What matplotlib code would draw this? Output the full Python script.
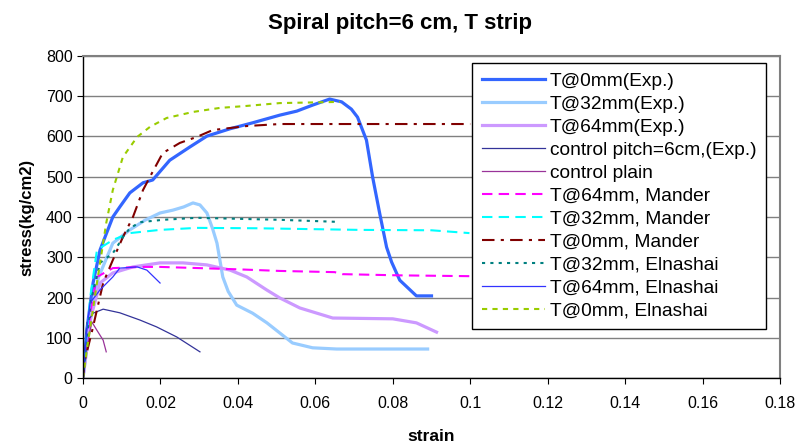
import matplotlib
matplotlib.use("Agg")
import matplotlib.pyplot as plt

plt.rcParams['font.family'] = ['Liberation Sans', 'DejaVu Sans']

# ---------------- data ----------------
t0_exp_x = [0, 0.001, 0.0026, 0.0044, 0.0077, 0.0095, 0.0121, 0.0155, 0.018, 0.0224, 0.0276, 0.032,
            0.0379, 0.0438, 0.0508, 0.0552, 0.0593, 0.0637, 0.0668, 0.0693, 0.0709, 0.0732, 0.0748,
            0.0766, 0.0784, 0.0797, 0.0818, 0.0839, 0.0861, 0.09]
t0_exp_y = [0, 120, 236, 318, 400, 425, 460, 485, 492, 541, 574, 601,
            619, 634, 653, 663, 678, 693, 686, 668, 648, 591, 499,
            410, 325, 288, 243, 224, 204, 204]

t32_exp_x = [0, 0.002, 0.004, 0.0077, 0.0121, 0.016, 0.0199, 0.0232, 0.026, 0.0284, 0.0302, 0.032,
             0.0335, 0.0346, 0.0361, 0.0375, 0.0397, 0.0438, 0.0475, 0.0508, 0.0541, 0.0593, 0.0655, 0.089]
t32_exp_y = [0, 150, 250, 335, 368, 392, 410, 417, 425, 435, 430, 410,
             370, 335, 251, 215, 181, 161, 137, 112, 87, 75, 72, 72]

t64_exp_x = [0, 0.002, 0.0044, 0.0077, 0.0129, 0.0199, 0.0258, 0.032, 0.038, 0.0423, 0.0474, 0.0508,
             0.056, 0.0645, 0.08, 0.0861, 0.0913]
t64_exp_y = [0, 150, 236, 261, 276, 286, 286, 281, 268, 251, 219, 199,
             174, 149, 147, 137, 114]

ctrl_pitch_x = [0, 0.001, 0.0026, 0.0052, 0.0095, 0.0147, 0.019, 0.0242, 0.0302]
ctrl_pitch_y = [0, 137, 161, 171, 162, 144, 127, 102, 65]

ctrl_plain_x = [0, 0.001, 0.0023, 0.0035, 0.0052, 0.006]
ctrl_plain_y = [0, 80, 139, 120, 94, 65]

t64_mander_x = [0, 0.001, 0.002, 0.0036, 0.0077, 0.0147, 0.0199, 0.03, 0.04, 0.0508, 0.065, 0.067, 0.0818, 0.0998]
t64_mander_y = [0, 90, 170, 251, 273, 276, 276, 273, 270, 266, 263, 258, 255, 253]

t32_mander_x = [0, 0.001, 0.002, 0.0036, 0.0077, 0.0121, 0.0199, 0.0294, 0.045, 0.0714, 0.09, 0.0998]
t32_mander_y = [0, 110, 210, 318, 343, 360, 368, 373, 372, 368, 367, 360]

t0_mander_x = [0, 0.0005, 0.0023, 0.0052, 0.0077, 0.0103, 0.0129, 0.0155, 0.0178, 0.0206, 0.025,
               0.0294, 0.0335, 0.0423, 0.0508, 0.1]
t0_mander_y = [0, 45, 115, 236, 293, 350, 400, 467, 509, 559, 584,
               599, 616, 626, 631, 631]

t32_eln_x = [0, 0.001, 0.002, 0.0044, 0.0077, 0.0088, 0.0103, 0.0121, 0.0147, 0.0206, 0.0294, 0.0508, 0.0655]
t32_eln_y = [0, 100, 190, 286, 310, 326, 350, 372, 387, 393, 398, 393, 388]

t64_eln_x = [0, 0.001, 0.0018, 0.0044, 0.0077, 0.0095, 0.014, 0.0165, 0.0199]
t64_eln_y = [0, 120, 186, 219, 251, 273, 276, 268, 236]

t0_eln_x = [0, 0.001, 0.0036, 0.006, 0.0077, 0.0103, 0.014, 0.0173, 0.0216, 0.0284, 0.0353, 0.0423, 0.0508, 0.0663]
t0_eln_y = [0, 70, 236, 385, 467, 549, 599, 624, 646, 661, 671, 676, 683, 686]

x_ticks = [0, 0.02, 0.04, 0.06, 0.08, 0.1, 0.12, 0.14, 0.16, 0.18]
x_tick_labels = ['0', '0.02', '0.04', '0.06', '0.08', '0.1', '0.12', '0.14', '0.16', '0.18']
y_ticks = [0, 100, 200, 300, 400, 500, 600, 700, 800]

# ---------------- figure ----------------
fig = plt.figure(figsize=(8, 4.46), dpi=100)
ax = fig.add_axes([83/800, 1 - 378/446, (780 - 83)/800, (378 - 56)/446])

ax.plot(t0_exp_x, t0_exp_y, color='#3366FF', lw=2.3, label='T@0mm(Exp.)')
ax.plot(t32_exp_x, t32_exp_y, color='#99CCFF', lw=2.3, label='T@32mm(Exp.)')
ax.plot(t64_exp_x, t64_exp_y, color='#CC99FF', lw=2.3, label='T@64mm(Exp.)')
ax.plot(ctrl_pitch_x, ctrl_pitch_y, color='#333399', lw=0.9, label='control pitch=6cm,(Exp.)')
ax.plot(ctrl_plain_x, ctrl_plain_y, color='#993399', lw=0.9, label='control plain')
ax.plot(t64_mander_x, t64_mander_y, color='#FF00FF', lw=1.5, dashes=(5, 3), label='T@64mm, Mander')
ax.plot(t32_mander_x, t32_mander_y, color='#00FFFF', lw=1.5, dashes=(5, 3), label='T@32mm, Mander')
ax.plot(t0_mander_x, t0_mander_y, color='#800000', lw=1.5, dashes=(6, 3, 1.5, 3), label='T@0mm, Mander')
ax.plot(t32_eln_x, t32_eln_y, color='#008080', lw=1.5, dashes=(1.5, 2.5), label='T@32mm, Elnashai')
ax.plot(t64_eln_x, t64_eln_y, color='#3333FF', lw=0.9, label='T@64mm, Elnashai')
ax.plot(t0_eln_x, t0_eln_y, color='#99CC00', lw=1.5, dashes=(2.5, 2.5), label='T@0mm, Elnashai')

ax.set_xlim(0, 0.18)
ax.set_ylim(0, 800)
ax.set_xticks(x_ticks)
ax.set_xticklabels(x_tick_labels)
ax.set_yticks(y_ticks)
ax.tick_params(axis='both', labelsize=11.5, direction='out', length=4, color='black')
ax.tick_params(axis='x', pad=9)

ax.grid(axis='y', color='#808080', lw=1)
ax.set_axisbelow(True)
for s in ['top', 'right']:
    ax.spines[s].set_color('#808080')
    ax.spines[s].set_linewidth(1.5)
for s in ['left', 'bottom']:
    ax.spines[s].set_color('black')
    ax.spines[s].set_linewidth(1)

ax.set_xlabel('strain', fontsize=12.5, fontweight='bold', labelpad=13)
ax.set_ylabel('stress(kg/cm2)', fontsize=12, fontweight='bold', labelpad=8)
fig.suptitle('Spiral pitch=6 cm, T strip', fontsize=16, fontweight='bold', y=0.97)

leg = ax.legend(loc='upper left', bbox_to_anchor=(472/800, 1 - 63/446), bbox_transform=fig.transFigure,
                borderaxespad=0, fontsize=13.8, frameon=True, fancybox=False, framealpha=1,
                edgecolor='black', handlelength=3.3, handletextpad=0.25, labelspacing=0.29,
                borderpad=0.5)
leg.get_frame().set_linewidth(1)

fig.savefig('out.png', dpi=100)
